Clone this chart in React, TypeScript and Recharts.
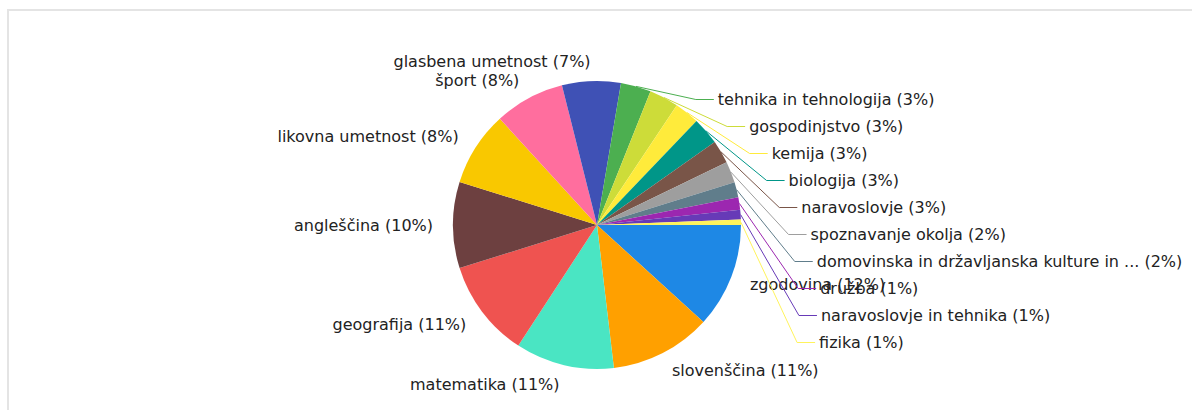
import { PieChart, Pie, Cell } from 'recharts'

// slices, clockwise from 3 o'clock
const subjects = [
  'zgodovina', 'slovenščina', 'matematika', 'geografija', 'angleščina',
  'likovna umetnost', 'šport', 'glasbena umetnost', 'tehnika in tehnologija',
  'gospodinjstvo', 'kemija', 'biologija', 'naravoslovje', 'spoznavanje okolja',
  'domovinska in državljanska kulture in ...', 'družba', 'naravoslovje in tehnika', 'fizika',
]
const shares = [11.8, 11.4, 11.1, 11.0, 9.7, 8.4, 7.9, 6.6, 3.4, 3.3, 2.8, 3.1, 2.6, 2.4, 1.7, 1.4, 1.1, 0.6]
const colors = [
  '#1E88E5', '#FFA000', '#4AE5C3', '#EF5350', '#6D4040', '#F9C800', '#FF6E9E', '#3F51B5', '#4CAF50',
  '#CDDC39', '#FFEB3B', '#009688', '#795548', '#9E9E9E', '#607D8B', '#9C27B0', '#673AB7', '#FFF35C',
]
// slices from this index on get a leader line and a stacked label on the right
const FIRST_LEADER = 8

const data = subjects.map((name, i) => ({ name, value: shares[i] }))
const RAD = Math.PI / 180
const font = { fontFamily: '"DejaVu Sans", Verdana, sans-serif', fontSize: 16, fill: '#222' }

function renderLabel(p: any) {
  const { cx, cy, midAngle, outerRadius, index, percent, name } = p
  const txt = `${name} (${Math.round(percent * 100)}%)`
  const cos = Math.cos(-midAngle * RAD), sin = Math.sin(-midAngle * RAD)
  if (index < FIRST_LEADER) {
    const r = outerRadius + 20
    return (
      <text x={cx + r * cos} y={cy + r * sin} textAnchor={cos >= 0 ? 'start' : 'end'} dominantBaseline="central" {...font}>
        {txt}
      </text>
    )
  }
  const n = subjects.length - FIRST_LEADER
  const k = index - FIRST_LEADER
  const y = cy - 4 + (k - (n - 1) / 2) * 27
  const dy = y - (cy + 85)
  const tx = cx + 224 * Math.sqrt(Math.max(0, 1 - (dy / 250) ** 2))
  const sx = cx + outerRadius * cos, sy = cy + outerRadius * sin
  return (
    <g>
      <polyline points={`${sx},${sy} ${tx - 22},${y} ${tx - 4},${y}`} stroke={colors[index]} strokeWidth={1} fill="none" />
      <text x={tx} y={y} textAnchor="start" dominantBaseline="central" {...font}>{txt}</text>
    </g>
  )
}

export default function App() {
  return (
    <div>
      <div style={{ position: 'absolute', left: 7, top: 9, width: 1185, height: 401, boxSizing: 'border-box', borderLeft: '2px solid #e4e4e4', borderTop: '2px solid #e4e4e4' }} />
      <div style={{ position: 'absolute', left: 0, top: 0 }}>
        <PieChart width={1192} height={410}>
          <Pie data={data} dataKey="value" nameKey="name" cx={592} cy={220} outerRadius={144}
            startAngle={0} endAngle={-360} stroke="none" label={renderLabel} labelLine={false} isAnimationActive={false}>
            {data.map((d, i) => <Cell key={d.name} fill={colors[i]} />)}
          </Pie>
        </PieChart>
      </div>
    </div>
  )
}
